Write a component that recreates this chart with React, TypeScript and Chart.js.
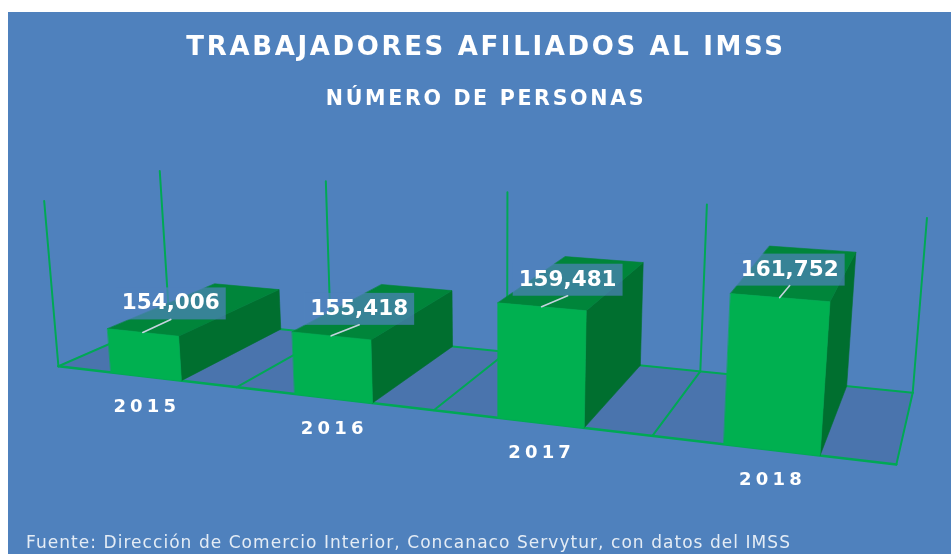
import { useEffect, useRef } from "react";
import { Chart, registerables } from "chart.js";

Chart.register(...registerables);

const years = ["2015", "2016", "2017", "2018"];
const workers = [154006, 155418, 159481, 161752];
const chartTitle = "TRABAJADORES AFILIADOS AL IMSS";
const chartSubtitle = "NÚMERO DE PERSONAS";
const sourceNote = "Fuente: Dirección de Comercio Interior, Concanaco Servytur, con datos del IMSS";

const OX = 8;
const OY = 12;
// calibration of the 3D box: [across, depth, height] -> page pixel
const calibration: number[][] = [
  [0, 0, 0, 58, 367], [0.25, 0, 0, 238, 386], [0.5, 0, 0, 433, 410], [0.75, 0, 0, 653, 436], [1, 0, 0, 896, 465],
  [0, 1, 0, 169, 318], [0.75, 1, 0, 700, 372], [1, 1, 0, 913, 392],
  [0, 0, 1, 44, 201], [0, 1, 1, 160, 171], [0.25, 1, 1, 326, 181], [0.5, 1, 1, 507, 192], [0.75, 1, 1, 707, 205], [1, 1, 1, 927, 218],
];
// leader line of each value label, relative to the middle of the bar's front top edge
const leaderOffsets: number[][] = [[28, -13], [28, -11], [26, -11], [10, -12]];

function solveProjection(): number[] {
  const n = 11;
  const A = Array.from({ length: n }, () => new Array(n + 1).fill(0));
  const add = (row: number[], rhs: number) => {
    for (let i = 0; i < n; i++) {
      for (let j = 0; j < n; j++) A[i][j] += row[i] * row[j];
      A[i][n] += row[i] * rhs;
    }
  };
  for (const [u, d, h, px, py] of calibration) {
    const x = px / 1000;
    const y = py / 1000;
    add([u, d, h, 1, 0, 0, 0, 0, -x * u, -x * d, -x * h], x);
    add([0, 0, 0, 0, u, d, h, 1, -y * u, -y * d, -y * h], y);
  }
  for (let c = 0; c < n; c++) {
    let p = c;
    for (let r = c + 1; r < n; r++) if (Math.abs(A[r][c]) > Math.abs(A[p][c])) p = r;
    [A[c], A[p]] = [A[p], A[c]];
    for (let r = 0; r < n; r++) {
      if (r === c) continue;
      const f = A[r][c] / A[c][c];
      for (let k = c; k <= n; k++) A[r][k] -= f * A[c][k];
    }
  }
  return A.map((row, i) => row[n] / row[i]);
}
const M = solveProjection();
function project(u: number, d: number, h: number): [number, number] {
  const w = M[8] * u + M[9] * d + M[10] * h + 1;
  return [
    ((M[0] * u + M[1] * d + M[2] * h + M[3]) / w) * 1000 - OX,
    ((M[4] * u + M[5] * d + M[6] * h + M[7]) / w) * 1000 - OY,
  ];
}

const BG = "#4F81BD";
const FLOOR = "#4A74AD";
const LINE = "#00A855";
const FRONT = "#00B050";
const TOP = "#00853A";
const SIDE = "#006F2F";
const U_SHIFT = 0.0005;

function poly(ctx: CanvasRenderingContext2D, pts: [number, number][], fill: string) {
  ctx.beginPath();
  pts.forEach((p, i) => (i ? ctx.lineTo(p[0], p[1]) : ctx.moveTo(p[0], p[1])));
  ctx.closePath();
  ctx.fillStyle = fill;
  ctx.fill();
  ctx.strokeStyle = fill;
  ctx.lineWidth = 0.6;
  ctx.stroke();
}
function seg(ctx: CanvasRenderingContext2D, a: [number, number], b: [number, number], color: string, w: number) {
  ctx.beginPath();
  ctx.moveTo(a[0], a[1]);
  ctx.lineTo(b[0], b[1]);
  ctx.strokeStyle = color;
  ctx.lineWidth = w;
  ctx.stroke();
}

const spacingPlugin = {
  id: "spacing",
  beforeDraw(chart: any) {
    chart.ctx.letterSpacing = "2.65px";
  },
};

const box3d = {
  id: "box3d",
  afterDatasetsDraw(chart: any) {
    const ctx: CanvasRenderingContext2D = chart.ctx;
    const ca = chart.chartArea;
    const U = (px: number) => (px - ca.left) / ca.width + U_SHIFT;
    const H = (py: number) => (ca.bottom - py) / ca.height;
    const n = years.length;
    ctx.save();
    (ctx as any).letterSpacing = "0px";
    ctx.lineCap = "round";

    poly(ctx, [project(0, 0, 0), project(1, 0, 0), project(1, 1, 0), project(0, 1, 0)], FLOOR);
    for (let i = 0; i <= n; i++) {
      const u = i / n;
      seg(ctx, project(u, 1, 0), project(u, 1, 1), LINE, 2);
      seg(ctx, project(u, 0, 0), project(u, 1, 0), LINE, 2);
    }
    seg(ctx, project(0, 0, 0), project(0, 0, 1), LINE, 2);
    seg(ctx, project(0, 1, 0), project(1, 1, 0), LINE, 2);
    seg(ctx, project(0, 0, 0), project(1, 0, 0), LINE, 2.5);

    const bars = chart.getDatasetMeta(0).data;
    bars.forEach((bar: any) => {
      const u0 = U(bar.x - bar.width / 2);
      const u1 = U(bar.x + bar.width / 2);
      const h = H(bar.y);
      const b = 0;
      poly(ctx, [project(u1, 0, b), project(u1, 1, b), project(u1, 1, h), project(u1, 0, h)], SIDE);
      poly(ctx, [project(u0, 0, h), project(u1, 0, h), project(u1, 1, h), project(u0, 1, h)], TOP);
      poly(ctx, [project(u0, 0, b), project(u1, 0, b), project(u1, 0, h), project(u0, 0, h)], FRONT);
    });

    bars.forEach((bar: any, i: number) => {
      const uc = U(bar.x);
      const h = H(bar.y);
      const a = project(uc, 0, h);
      const e: [number, number] = [a[0] + leaderOffsets[i][0], a[1] + leaderOffsets[i][1]];
      const text = workers[i].toLocaleString("en-US");
      ctx.font = "bold 21.5px 'DejaVu Sans'";
      const w = ctx.measureText(text).width + 12;
      ctx.fillStyle = "rgba(79,129,189,0.7)";
      ctx.fillRect(e[0] - w / 2, e[1] - 32, w, 32);
      seg(ctx, a, e, "#C4D3DF", 1.6);
      ctx.fillStyle = "#FFFFFF";
      ctx.textAlign = "center";
      ctx.textBaseline = "middle";
      ctx.fillText(text, e[0], e[1] - 15.5);

      const base = project(uc, 0, 0);
      ctx.font = "bold 18px 'DejaVu Sans'";
      (ctx as any).letterSpacing = "4.2px";
      ctx.fillText(years[i], base[0] + 1, base[1] + 31);
      (ctx as any).letterSpacing = "0px";
    });

    ctx.font = "17px 'DejaVu Sans'";
    (ctx as any).letterSpacing = "1.05px";
    ctx.textAlign = "left";
    ctx.textBaseline = "alphabetic";
    ctx.fillStyle = "#E4ECF5";
    ctx.fillText(sourceNote, 26 - OX, 548 - OY);
    ctx.restore();
  },
};

export default function App() {
  const ref = useRef<HTMLCanvasElement>(null);
  useEffect(() => {
    if (!ref.current) return;
    const chart = new Chart(ref.current, {
      type: "bar",
      data: {
        labels: years,
        datasets: [
          {
            label: "Trabajadores afiliados",
            data: workers,
            backgroundColor: "rgba(0,0,0,0)",
            borderWidth: 0,
            barPercentage: 0.395,
            categoryPercentage: 1,
          },
        ],
      },
      options: {
        responsive: false,
        animation: false,
        layout: { padding: { left: 40, right: 27, bottom: 40 } },
        scales: {
          x: { display: false },
          y: { display: false, min: 150000, max: 165000 },
        },
        plugins: {
          legend: { display: false },
          tooltip: { enabled: false },
          title: {
            display: true,
            text: chartTitle,
            fullSize: false,
            color: "#FFFFFF",
            font: { family: "'DejaVu Sans'", size: 26, weight: "bold", lineHeight: 1.2 },
            padding: { top: 21, bottom: 23 },
          },
          subtitle: {
            display: true,
            text: chartSubtitle,
            fullSize: false,
            color: "#FFFFFF",
            font: { family: "'DejaVu Sans'", size: 20.6, weight: "bold", lineHeight: 1.2 },
            padding: { top: 0, bottom: 10 },
          },
        },
      },
      plugins: [spacingPlugin, box3d],
    } as any);
    return () => chart.destroy();
  }, []);
  return (
    <div style={{ position: "fixed", left: OX, top: OY, width: 943, height: 542 }}>
      <canvas ref={ref} width={943} height={542} style={{ display: "block", background: BG }} />
    </div>
  );
}
